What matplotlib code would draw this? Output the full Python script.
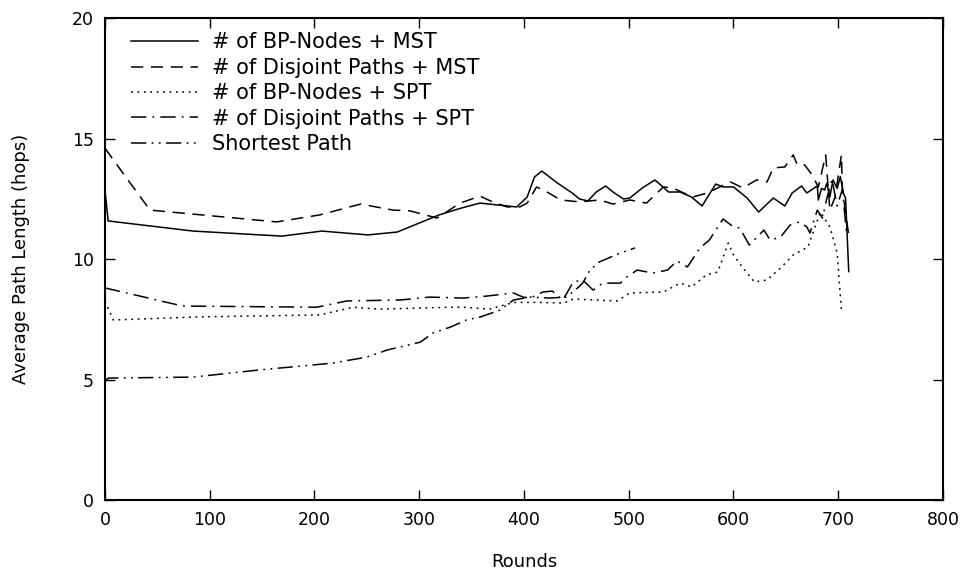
import matplotlib
matplotlib.use("Agg")
import matplotlib.pyplot as plt

# Average path length per round for each routing strategy
bp_mst_rounds = [0, 3, 84, 169, 207, 251, 279, 319, 339, 358, 393, 403, 410, 417, 432, 446,
                 453, 461, 469, 478, 485, 495, 501, 513, 525, 538, 549, 560, 570, 583, 590,
                 600, 613, 624, 638, 649, 656, 665, 670, 680, 681, 684, 687, 689, 692, 695,
                 699, 702, 705, 707, 710]
bp_mst_values = [12.86, 11.58, 11.16, 10.95, 11.16, 11.0, 11.12, 11.83, 12.1, 12.32, 12.16,
                 12.57, 13.4, 13.65, 13.15, 12.74, 12.49, 12.41, 12.78, 13.03, 12.78, 12.49,
                 12.53, 12.95, 13.28, 12.78, 12.78, 12.57, 12.2, 13.11, 12.99, 12.99, 12.53,
                 11.95, 12.53, 12.2, 12.74, 13.03, 12.74, 13.03, 12.45, 12.93, 12.86, 13.14,
                 12.58, 13.28, 12.93, 13.42, 12.72, 12.52, 9.48]

dp_mst_rounds = [0, 17, 43, 164, 205, 244, 275, 291, 317, 339, 358, 370, 384, 396, 403, 412,
                 422, 435, 453, 472, 485, 501, 517, 533, 542, 561, 575, 597, 609, 622, 632,
                 638, 649, 657, 661, 668, 675, 681, 688, 692, 697, 703, 704, 708, 710]
dp_mst_values = [14.6, 13.57, 12.03, 11.54, 11.83, 12.28, 12.03, 12.0, 11.7, 12.32, 12.61,
                 12.37, 12.16, 12.16, 12.32, 12.99, 12.78, 12.45, 12.37, 12.45, 12.28, 12.45,
                 12.32, 12.99, 12.95, 12.57, 12.74, 13.2, 12.95, 13.28, 13.2, 13.78, 13.82,
                 14.32, 13.9, 13.9, 13.49, 12.99, 14.32, 12.03, 12.57, 14.32, 12.86, 11.62,
                 11.0]

bp_spt_rounds = [0, 8, 91, 205, 237, 262, 330, 342, 367, 390, 415, 438, 447, 489, 501, 533,
                 549, 560, 574, 585, 595, 600, 609, 620, 632, 645, 657, 671, 683, 692, 699,
                 703]
bp_spt_values = [8.25, 7.47, 7.6, 7.68, 8.0, 7.92, 8.0, 8.0, 7.92, 8.2, 8.2, 8.17, 8.34,
                 8.26, 8.59, 8.63, 9.0, 8.84, 9.34, 9.46, 10.66, 10.17, 9.63, 9.05, 9.13,
                 9.63, 10.17, 10.5, 11.95, 11.33, 10.25, 7.88]

dp_spt_rounds = [0, 74, 202, 231, 282, 310, 342, 364, 390, 399, 406, 418, 427, 437, 441, 447,
                 456, 466, 475, 492, 498, 508, 523, 537, 546, 556, 568, 577, 590, 600, 606,
                 615, 629, 635, 645, 654, 663, 670, 673, 680, 685, 689, 694, 699, 704, 708]
dp_spt_values = [8.8, 8.05, 8.0, 8.26, 8.3, 8.42, 8.38, 8.46, 8.59, 8.42, 8.38, 8.63, 8.67,
                 8.3, 8.59, 9.05, 9.13, 8.71, 9.0, 9.0, 9.25, 9.54, 9.42, 9.54, 9.92, 9.67,
                 10.46, 10.79, 11.66, 11.33, 11.29, 10.58, 11.2, 10.79, 10.91, 11.41, 11.54,
                 11.33, 11.08, 12.03, 11.7, 12.5, 13.3, 12.2, 12.9, 11.0]

sp_rounds = [0, 3, 84, 148, 217, 250, 269, 301, 313, 330, 345, 358, 377, 390, 406, 424, 440,
             449, 456, 463, 472, 492, 506]
sp_values = [4.9, 5.06, 5.1, 5.4, 5.68, 5.93, 6.22, 6.55, 6.93, 7.18, 7.47, 7.59, 7.88, 8.3,
             8.42, 8.38, 8.42, 8.71, 9.0, 9.54, 9.88, 10.25, 10.46]

labels = ["# of BP-Nodes + MST", "# of Disjoint Paths + MST", "# of BP-Nodes + SPT",
          "# of Disjoint Paths + SPT", "Shortest Path"]

plt.rcParams['font.family'] = 'DejaVu Sans'
plt.rcParams['font.size'] = 12

fig = plt.figure(figsize=(9.65, 5.77), dpi=100)
ax = fig.add_axes([0.1088, 0.1334, 0.8684, 0.8354])

ax.plot(bp_mst_rounds, bp_mst_values, color='k', lw=1.1, linestyle='-', label=labels[0])
ax.plot(dp_mst_rounds, dp_mst_values, color='k', lw=1.1, linestyle=(0, (8, 5)), label=labels[1])
ax.plot(bp_spt_rounds, bp_spt_values, color='k', lw=1.1, linestyle=(0, (1.2, 3)), label=labels[2])
ax.plot(dp_spt_rounds, dp_spt_values, color='k', lw=1.1, linestyle=(0, (10, 4, 1.2, 4)), label=labels[3])
ax.plot(sp_rounds, sp_values, color='k', lw=1.1, linestyle=(0, (10, 3.5, 1.2, 3.5, 1.2, 3.5)), label=labels[4])

ax.set_xlim(0, 800)
ax.set_ylim(0, 20)
ax.set_xticks(range(0, 801, 100))
ax.set_yticks(range(0, 21, 5))
ax.tick_params(direction='in', length=7, width=1, top=True, right=True, pad=8,
               labelsize=12.5)
for s in ax.spines.values():
    s.set_linewidth(1.5)

ax.set_xlabel('Rounds', fontsize=13, labelpad=17)
ax.set_ylabel('Average Path Length (hops)', fontsize=13, labelpad=30)

ax.legend(loc='upper left', frameon=False, fontsize=15, handlelength=3.2,
          handletextpad=0.67, labelspacing=0.26, borderpad=0, borderaxespad=0,
          bbox_to_anchor=(0.031, 0.97))

fig.savefig('out.png', dpi=100)
